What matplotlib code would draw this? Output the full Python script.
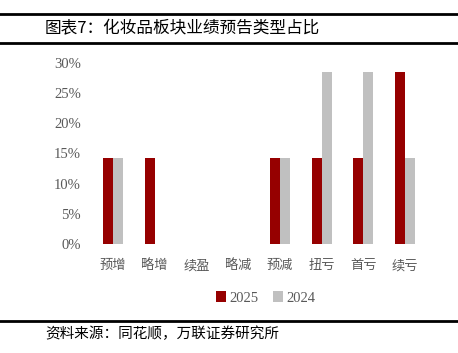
import matplotlib
matplotlib.use('Agg')
import matplotlib.pyplot as plt
import numpy as np
from matplotlib.lines import Line2D

categories = ['预增', '略增', '续盈', '略减', '预减', '扭亏', '首亏', '续亏']
y2025 = [14.29, 14.29, 0, 0, 14.29, 14.29, 14.29, 28.57]
y2024 = [14.29, 0, 0, 0, 14.29, 28.57, 28.57, 14.29]
yticks = [0, 5, 10, 15, 20, 25, 30]

RED = '#960000'
GRAY = '#C0C0C0'
TXT = '#595959'
CJK = ['Noto Sans CJK SC', 'DejaVu Sans']
SERIF = ['Liberation Serif', 'DejaVu Serif']


def main():
    fig = plt.figure(figsize=(4.58, 3.53), dpi=100)
    ax = fig.add_axes([0.201, 0.309, 0.729, 0.5125])

    x = np.arange(len(categories))
    w = 0.24
    ax.bar(x - w / 2, y2025, w, color=RED, label='2025')
    ax.bar(x + w / 2, y2024, w, color=GRAY, label='2024')

    ax.set_xlim(-0.5, len(categories) - 0.5)
    ax.set_ylim(0, 30)
    ax.set_yticks(yticks)
    ax.set_yticklabels([f'{t}%' for t in yticks], family=SERIF, size=10.5, color=TXT)
    ax.set_xticks(x)
    ax.set_xticklabels(categories, family=CJK, size=9.5, color=TXT)
    ax.tick_params(length=0)
    ax.tick_params(axis='y', pad=8)
    ax.tick_params(axis='x', pad=11)
    for s in ax.spines.values():
        s.set_visible(False)

    leg = ax.legend(loc='upper center', bbox_to_anchor=(0.52, -0.19), ncol=2,
                    frameon=False, handlelength=0.7, handleheight=0.7,
                    handletextpad=0.2, columnspacing=1.0,
                    prop={'family': SERIF, 'size': 10.5})
    for t in leg.get_texts():
        t.set_color(TXT)

    # header / footer rules
    for yp in [14, 43, 321]:
        fig.add_artist(Line2D([0, 1], [1 - yp / 353] * 2, color='black', lw=2,
                              transform=fig.transFigure))

    fig.text(45 / 458, 1 - 29 / 353, '图表7：化妆品板块业绩预告类型占比',
             family=CJK, size=12, va='center', ha='left', color='black')
    fig.text(45 / 458, 1 - 334 / 353, '资料来源：同花顺，万联证券研究所',
             family=CJK, size=10.5, va='center', ha='left', color='black',
             style='italic')

    fig.savefig('out.png', dpi=100)


if __name__ == '__main__':
    main()
